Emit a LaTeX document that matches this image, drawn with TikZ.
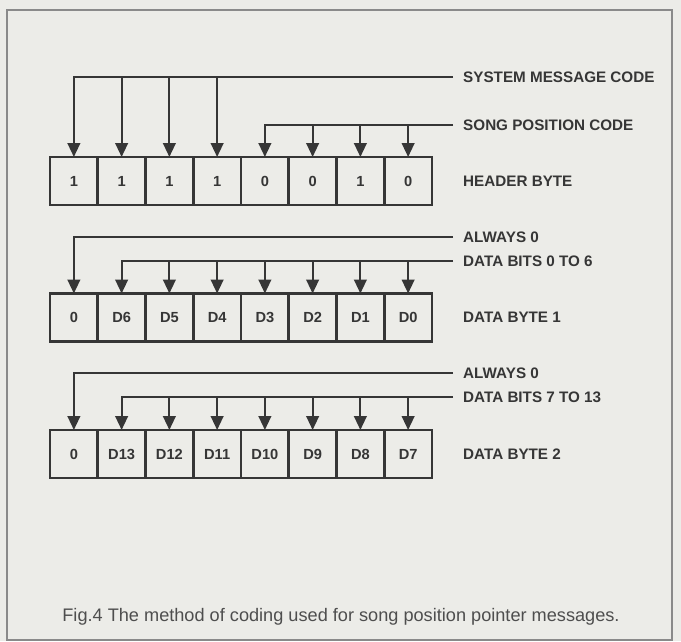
\documentclass[tikz,border=0pt]{standalone}
\usepackage{fontspec}
\setmainfont{Liberation Sans}
\usetikzlibrary{positioning,arrows.meta}
\definecolor{paper}{HTML}{ECECE8}
\definecolor{ink}{HTML}{363636}
\definecolor{capink}{HTML}{4E4E4E}
\definecolor{framegray}{HTML}{8A8A8A}
\tikzset{
  cell/.style={draw=ink,line width=2.2pt,minimum width=1.4325cm,minimum height=1.44cm,
    inner sep=0pt,outer sep=0pt,text=ink,font=\bfseries\fontsize{12.5}{14}\selectfont},
  bus/.style={draw=ink,line width=1.8pt},
  feed/.style={bus,-{Triangle[width=0.38cm,length=0.42cm]}},
  tag/.style={anchor=west,inner sep=0pt,text=ink,font=\bfseries\fontsize{13}{15}\selectfont}
}

\begin{document}
\begin{tikzpicture}[x=0.03cm,y=-0.03cm]
      \fill[paper] (0,0) rectangle (681,641);
      \draw[framegray,line width=1.2pt] (7,10) rectangle (672,640);
      \foreach \v [count=\i] in {1,1,1,1,0,0,1,0}
        \node[cell] (h\i) at ({50+47.75*(\i-0.5)},181) {\v};
      \foreach \v [count=\i] in {0,D6,D5,D4,D3,D2,D1,D0}
        \node[cell] (a\i) at ({50+47.75*(\i-0.5)},317.5) {\v};
      \foreach \v [count=\i] in {0,D13,D12,D11,D10,D9,D8,D7}
        \node[cell] (b\i) at ({50+47.75*(\i-0.5)},454) {\v};
      \coordinate (sys) at (453,77);
      \coordinate (song) at (453,125);
      \coordinate (zeroa) at (453,237);
      \coordinate (bitsa) at (453,261);
      \coordinate (zerob) at (453,373);
      \coordinate (bitsb) at (453,397);
      \draw[feed] (sys) -- (h1.north |- sys) -- (h1.north);
      \foreach \i in {2,3,4} \draw[feed] (h\i.north |- sys) -- (h\i.north);
      \draw[feed] (song) -- (h5.north |- song) -- (h5.north);
      \foreach \i in {6,7,8} \draw[feed] (h\i.north |- song) -- (h\i.north);
      \draw[feed] (zeroa) -- (a1.north |- zeroa) -- (a1.north);
      \draw[feed] (bitsa) -- (a2.north |- bitsa) -- (a2.north);
      \foreach \i in {3,...,8} \draw[feed] (a\i.north |- bitsa) -- (a\i.north);
      \draw[feed] (zerob) -- (b1.north |- zerob) -- (b1.north);
      \draw[feed] (bitsb) -- (b2.north |- bitsb) -- (b2.north);
      \foreach \i in {3,...,8} \draw[feed] (b\i.north |- bitsb) -- (b\i.north);
      \node[tag,right=0.3cm of sys] (syslbl) {SYSTEM MESSAGE CODE};
      \node[tag,right=0.3cm of song] (songlbl) {SONG POSITION CODE};
      \node[tag,right=0.3cm of zeroa] (zeroalbl) {ALWAYS 0};
      \node[tag,right=0.3cm of bitsa] (bitsalbl) {DATA BITS 0 TO 6};
      \node[tag,right=0.3cm of zerob] (zeroblbl) {ALWAYS 0};
      \node[tag,right=0.3cm of bitsb] (bitsblbl) {DATA BITS 7 TO 13};
      \node[tag,right=0.93cm of h8] (hdrlbl) {HEADER BYTE};
      \node[tag,right=0.93cm of a8] (byteone) {DATA BYTE 1};
      \node[tag,right=0.93cm of b8] (bytetwo) {DATA BYTE 2};
      \node[text=capink,font=\fontsize{15.5}{18}\selectfont] (caption) at (341,617)
        {Fig.4 The method of coding used for song position pointer messages.};
    \end{tikzpicture}
\end{document}
